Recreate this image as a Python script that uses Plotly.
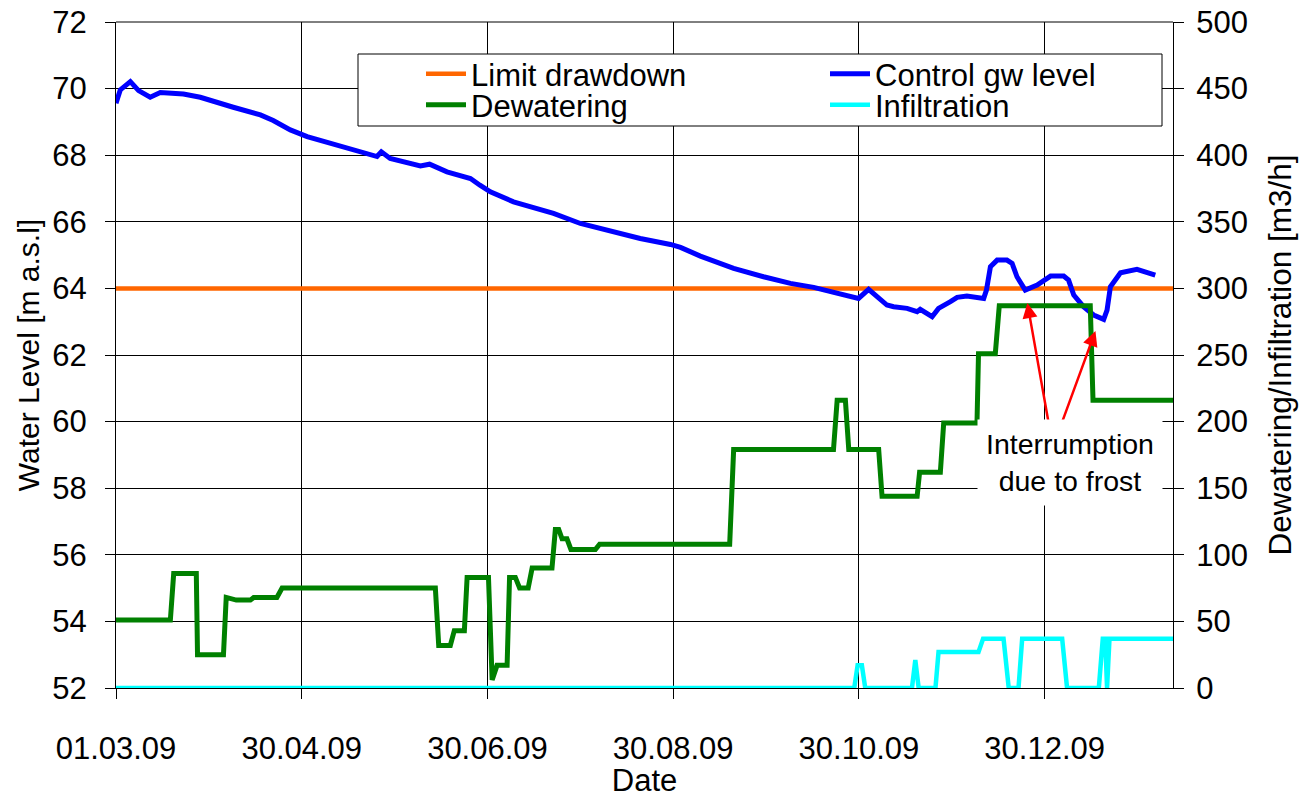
import pandas as pd
import plotly.graph_objects as go

# ---------------- data ----------------
start = pd.Timestamp("2009-03-01")

# Control groundwater level [m a.s.l] ; x = days since 01.03.09
gw_days = [0, 1.4, 4.7, 7.4, 11.2, 14.5, 22.1, 27.6, 38.4, 47.3, 51.5, 57.1, 62.6,
           75.6, 85.5, 86.9, 89.8, 99.7, 102.7, 108.4, 116.1, 119.2, 122.6, 130.2,
           143.3, 152.1, 158.6, 171.7, 181.6, 184.9, 191.4, 202.3, 212.1, 220.9,
           228.5, 237.2, 243.2, 246.5, 249.3, 252.5, 254.7, 259.1, 262.4, 263.4,
           267.3, 269.4, 273.3, 275.5, 278.7, 284.2, 285.1, 286.4, 288.6, 291.8,
           293.5, 295.1, 297.8, 301.7, 306.1, 310.4, 312.0, 313.7, 316.9, 320.2,
           323.5, 324.6, 325.7, 329.0, 334.4, 336.6, 340.4]
gw_level = [69.56, 69.96, 70.21, 69.94, 69.74, 69.88, 69.84, 69.74, 69.44, 69.21,
            69.04, 68.76, 68.56, 68.21, 67.96, 68.10, 67.90, 67.68, 67.73, 67.50,
            67.30, 67.10, 66.90, 66.60, 66.25, 65.95, 65.80, 65.50, 65.32, 65.23,
            64.97, 64.60, 64.35, 64.15, 64.03, 63.83, 63.70, 63.97, 63.75, 63.50,
            63.45, 63.40, 63.30, 63.37, 63.15, 63.40, 63.60, 63.73, 63.77, 63.70,
            63.95, 64.65, 64.85, 64.85, 64.75, 64.35, 63.95, 64.10, 64.37, 64.37,
            64.25, 63.80, 63.45, 63.20, 63.07, 63.35, 64.05, 64.47, 64.57, 64.50,
            64.40]

# Limit drawdown [m a.s.l]
limit_days = [0, 346.2]
limit_level = [64, 64]

# Dewatering [m3/h]
dew_days = [0, 17.8, 18.9, 26.3, 26.7, 35.2, 36.1, 39.4, 44.0, 45.1, 52.7, 54.4,
            104.6, 105.7, 109.5, 110.8, 114.1, 115.0, 122.0, 123.2, 124.8, 128.1,
            128.9, 130.8, 132.2, 135.0, 136.3, 142.8, 143.9, 145.0, 146.1, 147.7,
            149.0, 157.0, 158.4, 201.0, 202.3, 235.0, 236.2, 238.9, 240.0, 249.8,
            250.9, 262.4, 263.2, 270.0, 271.1, 282.0, 282.5, 288.0, 289.3, 319.1,
            320.0, 346.2]
dew_rate = [51, 51, 86, 86, 25, 25, 68, 66, 66, 68, 68, 75,
            75, 32, 32, 43, 43, 83, 83, 6, 17, 17,
            83, 83, 75, 75, 90, 90, 119, 119, 112, 112,
            104, 104, 108, 108, 179, 179, 216, 216, 179, 179,
            144, 144, 162, 162, 199, 199, 251, 251, 287, 287,
            216, 216]

# Infiltration [m3/h]
inf_days = [0, 241.8, 242.9, 244.3, 245.4, 260.7, 261.8, 262.9, 268.4, 269.4,
            282.5, 284.0, 290.7, 292.4, 295.6, 296.8, 309.9, 311.5, 321.9, 323.2,
            324.0, 324.6, 325.4, 346.2]
inf_rate = [0, 0, 17, 17, 0, 0, 21, 0, 0, 27,
            27, 37, 37, 0, 0, 37, 37, 0, 0, 37,
            37, 0, 37, 37]

tick_days = [0, 60.833, 121.667, 182.5, 243.333, 304.167]
tick_labels = ["01.03.09", "30.04.09", "30.06.09", "30.08.09", "30.10.09", "30.12.09"]
x_end_day = 346.2

left_range = [52, 72]
left_ticks = [52, 54, 56, 58, 60, 62, 64, 66, 68, 70, 72]
right_range = [0, 500]
right_ticks = [0, 50, 100, 150, 200, 250, 300, 350, 400, 450, 500]


def to_dates(days):
    return [start + pd.Timedelta(days=float(d)) for d in days]


REG = "Liberation Sans, Arial, sans-serif"

fig = go.Figure()
fig.add_trace(go.Scatter(x=to_dates(limit_days), y=limit_level, mode="lines",
                         name="Limit drawdown", line=dict(color="#FF6600", width=4.5),
                         legend="legend"))
fig.add_trace(go.Scatter(x=to_dates(gw_days), y=gw_level, mode="lines",
                         name="Control gw level", line=dict(color="#0000FF", width=5),
                         legend="legend2"))
fig.add_trace(go.Scatter(x=to_dates(dew_days), y=dew_rate, mode="lines",
                         name="Dewatering", line=dict(color="#008000", width=5),
                         yaxis="y2", legend="legend3"))
fig.add_trace(go.Scatter(x=to_dates(inf_days), y=inf_rate, mode="lines",
                         name="Infiltration", line=dict(color="#00FFFF", width=4.5),
                         yaxis="y2", legend="legend4"))

# plot area at x 116..1173, y 22..688 (page body margin removed below)
W, H = 1312, 798
PL, PT, PW, PH = 116, 22, 1057, 666
L, T = PL, PT
R, B = W - L - PW, H - T - PH


def px2x(px):
    return (px - PL) / PW


def px2y(py):
    return 1 - (py - PT) / PH


leg_font = dict(family=REG, size=31, color="#000000")
legend_common = dict(bgcolor="rgba(0,0,0,0)", borderwidth=0, font=leg_font,
                     xanchor="left", yanchor="middle", itemwidth=40,
                     itemclick=False, itemdoubleclick=False)

fig.update_layout(
    width=W, height=H,
    margin=dict(l=L, r=R, t=T, b=B, autoexpand=False),
    paper_bgcolor="white", plot_bgcolor="white",
    font=dict(family=REG, size=31, color="#000000"),
    showlegend=True,
    legend=dict(x=px2x(421), y=px2y(74), **legend_common),
    legend2=dict(x=px2x(825), y=px2y(74), **legend_common),
    legend3=dict(x=px2x(421), y=px2y(105), **legend_common),
    legend4=dict(x=px2x(825), y=px2y(105), **legend_common),
    xaxis=dict(
        type="date",
        range=[start, start + pd.Timedelta(days=x_end_day)],
        tickmode="array",
        tickvals=to_dates(tick_days),
        ticktext=tick_labels,
        tickfont=dict(family=REG, size=31),
        showgrid=True, gridcolor="#000000", gridwidth=1,
        showline=True, linecolor="#000000", linewidth=1,
        ticks="outside", ticklen=10, tickcolor="#000000",
        ticklabelstandoff=23, ticklabeloverflow="allow",
        zeroline=False, automargin=False,
        title=dict(text="Date", font=dict(family=REG, size=31), standoff=2),
    ),
    yaxis=dict(
        range=left_range, tickmode="array", tickvals=left_ticks,
        tickfont=dict(family=REG, size=31),
        showgrid=True, gridcolor="#000000", gridwidth=1,
        showline=True, linecolor="#000000", linewidth=1,
        ticks="outside", ticklen=10, tickcolor="#000000",
        ticklabelstandoff=12, ticklabeloverflow="allow",
        zeroline=False, automargin=False,
        title=dict(text="Water Level [m a.s.l]", font=dict(family=REG, size=30), standoff=3),
    ),
    yaxis2=dict(
        range=right_range, tickmode="array", tickvals=right_ticks,
        overlaying="y", side="right",
        tickfont=dict(family=REG, size=31),
        showgrid=False,
        showline=True, linecolor="#000000", linewidth=1,
        ticks="outside", ticklen=10, tickcolor="#000000",
        ticklabelstandoff=6, ticklabeloverflow="allow",
        zeroline=False, automargin=False,
        title=dict(text="Dewatering/Infiltration [m3/h]", font=dict(family=REG, size=31.5), standoff=22),
    ),
)

# top border of the plot area (the 72 / 500 gridline)
fig.add_shape(type="line", xref="paper", yref="paper", x0=0, x1=1, y0=1, y1=1,
              line=dict(color="#000000", width=1), layer="below")

# legend frame
fig.add_shape(type="rect", xref="paper", yref="paper",
              x0=px2x(358), x1=px2x(1162), y0=px2y(126), y1=px2y(54),
              line=dict(color="#000000", width=1), fillcolor="white", layer="above")

# arrows for the frost note
arrow_style = dict(showarrow=True, arrowhead=2, arrowsize=1.2, arrowwidth=2.5,
                   arrowcolor="#FF0000", text="", xref="x", yref="y", axref="x", ayref="y")
fig.add_annotation(x=start + pd.Timedelta(days=298.5), y=63.56,
                   ax=start + pd.Timedelta(days=305.7), ay=59.84, **arrow_style)
fig.add_annotation(x=start + pd.Timedelta(days=320.8), y=62.72,
                   ax=start + pd.Timedelta(days=309.3), ay=59.84, **arrow_style)
fig.add_annotation(x=start + pd.Timedelta(days=312.6), y=58.76, xref="x", yref="y",
                   text="Interrumption<br>due to frost", showarrow=False,
                   font=dict(family=REG, size=28.5, color="#000000"),
                   bgcolor="white", borderpad=8)

fig.write_html("out.html",
               config={"displayModeBar": False},
               post_script="document.body.style.margin='0';document.body.style.padding='0';")
